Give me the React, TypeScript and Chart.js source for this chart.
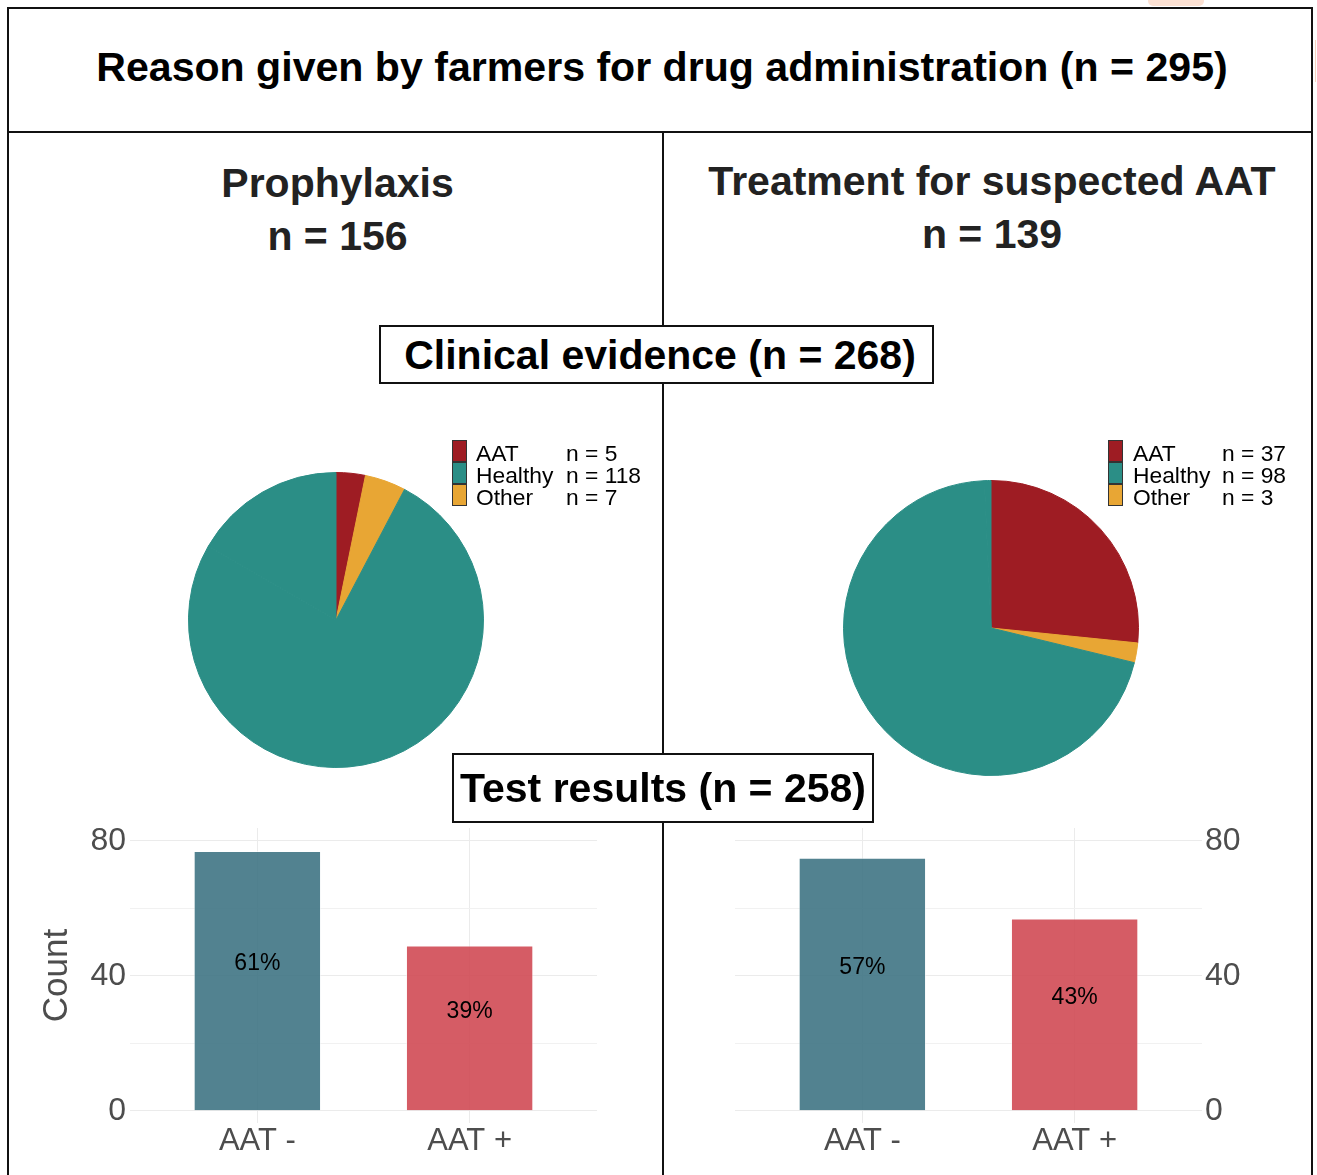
import React, { useEffect, useRef } from 'react';
import { Chart, registerables } from 'chart.js';

Chart.register(...registerables);

const FONT = '"Liberation Sans", Arial, Helvetica, sans-serif';

// ---------- texts ----------
const mainTitle = 'Reason given by farmers for drug administration (n = 295)';
const groupNames = ['Prophylaxis', 'Treatment for suspected AAT'];
const groupN = [156, 139];
const clinicalTitle = 'Clinical evidence (n = 268)';
const testTitle = 'Test results (n = 258)';

// ---------- pie data (clinical evidence) ----------
const pieCategories = ['AAT', 'Healthy', 'Other'];
const pieColors = ['#9e1c23', '#2b8e86', '#e8a634'];
const prophylaxisClinical = [5, 118, 7];
const treatmentClinical = [37, 98, 3];
// clockwise drawing order starting at 12 o'clock
const pieDrawOrder = ['AAT', 'Other', 'Healthy'];

// ---------- bar data (test results) ----------
const barCategories = ['AAT -', 'AAT +'];
const barColors = ['rgba(63,116,132,0.9)', 'rgba(208,74,84,0.9)'];
const prophylaxisTests = [77, 49];
const treatmentTests = [75, 57];
const countTicks = [0, 20, 40, 60, 80];
const countTickLabels = [0, 40, 80];
const countMin = -3.6;
const countMax = 83.8;
const percentLabelLift = 5; // label placed at count/2 + lift

function PieChart(props: { values: number[]; total: number; left: number; top: number }) {
  const ref = useRef<HTMLCanvasElement>(null);
  useEffect(() => {
    if (!ref.current) return;
    const idx = pieDrawOrder.map((c) => pieCategories.indexOf(c));
    const sum = props.values.reduce((a, b) => a + b, 0);
    const data = idx.map((i) => props.values[i]);
    const colors = idx.map((i) => pieColors[i]);
    const labels = idx.map((i) => pieCategories[i]);
    // remainder of the group total (no clinical record) shown in the Healthy colour
    const rest = props.total - sum;
    if (rest > 0) {
      data.push(rest);
      colors.push(pieColors[pieCategories.indexOf('Healthy')]);
      labels.push('');
    }
    const chart = new Chart(ref.current, {
      type: 'pie',
      data: {
        labels,
        datasets: [
          {
            data,
            backgroundColor: colors,
            borderColor: colors,
            borderWidth: 1,
            hoverOffset: 0,
            offset: 0,
          },
        ],
      },
      options: {
        responsive: false,
        animation: false,
        layout: { padding: 2 },
        plugins: { legend: { display: false }, tooltip: { enabled: false } },
        events: [],
      },
    });
    return () => chart.destroy();
  }, []);
  return (
    <canvas
      ref={ref}
      width={300}
      height={300}
      style={{ position: 'absolute', left: props.left, top: props.top, width: 300, height: 300 }}
    />
  );
}

const percentPlugin = {
  id: 'percentLabels',
  afterDatasetsDraw(chart: any) {
    const ctx = chart.ctx;
    const ds = chart.data.datasets[0];
    const vals = ds.data.map((d: any) => d.y);
    const total = vals.reduce((a: number, b: number) => a + b, 0);
    const meta = chart.getDatasetMeta(0);
    const yScale = chart.scales.y;
    ctx.save();
    ctx.font = `23px ${FONT}`;
    ctx.fillStyle = '#000';
    ctx.textAlign = 'center';
    ctx.textBaseline = 'middle';
    meta.data.forEach((bar: any, i: number) => {
      const v = vals[i];
      const y = yScale.getPixelForValue(v / 2 + percentLabelLift);
      ctx.fillText(Math.round((v / total) * 100) + '%', bar.x, y);
    });
    ctx.restore();
  },
};

function BarChart(props: {
  values: number[];
  side: 'left' | 'right';
  left: number;
  top: number;
  width: number;
  height: number;
}) {
  const ref = useRef<HTMLCanvasElement>(null);
  useEffect(() => {
    if (!ref.current) return;
    const isLeft = props.side === 'left';
    const chart = new Chart(ref.current, {
      type: 'bar',
      data: {
        datasets: [
          {
            data: props.values.map((v, i) => ({ x: i + 1, y: v })),
            backgroundColor: barColors,
            borderColor: 'rgba(255,255,255,0.55)',
            borderWidth: 1,
            categoryPercentage: 1,
            barPercentage: 0.6,
          },
        ],
      },
      options: {
        responsive: false,
        animation: false,
        events: [],
        layout: { padding: isLeft ? { top: 12, right: 3 } : { top: 12, left: 5 } },
        plugins: { legend: { display: false }, tooltip: { enabled: false } },
        scales: {
          x: {
            type: 'linear',
            min: 0.4,
            max: 2.6,
            offset: false,
            afterBuildTicks: (s: any) => {
              s.ticks = barCategories.map((_, i) => ({ value: i + 1 }));
            },
            afterFit: (s: any) => {
              s.height = 52;
              s.paddingLeft = 0;
              s.paddingRight = 0;
            },
            ticks: {
              callback: (v: any) => barCategories[Number(v) - 1] ?? '',
              font: { family: FONT, size: 31 },
              color: '#4d4d4d',
              padding: 0,
              maxRotation: 0,
              autoSkip: false,
            },
            grid: { color: '#ebebeb', lineWidth: 1, drawTicks: false, offset: false },
            border: { display: false },
          },
          y: {
            type: 'linear',
            position: isLeft ? 'left' : 'right',
            min: countMin,
            max: countMax,
            afterBuildTicks: (s: any) => {
              s.ticks = countTicks.map((v) => ({ value: v }));
            },
            afterFit: (s: any) => {
              s.width = isLeft ? 110 : 98;
              s.paddingTop = 0;
              s.paddingBottom = 0;
            },
            ticks: {
              callback: (v: any) => (countTickLabels.includes(Number(v)) ? String(v) : ''),
              font: { family: FONT, size: 32 },
              color: '#4d4d4d',
              padding: isLeft ? 4 : 3,
              autoSkip: false,
            },
            grid: {
              color: (c: any) =>
                countTickLabels.includes(c.tick?.value) ? '#ebebeb' : '#f1f1f1',
              lineWidth: 1,
              drawTicks: false,
            },
            border: { display: false },
            title: {
              display: isLeft,
              text: 'Count',
              font: { family: FONT, size: 35 },
              color: '#4d4d4d',
              padding: { top: 16, bottom: 0 },
            },
          },
        },
      },
      plugins: [percentPlugin],
    });
    return () => chart.destroy();
  }, []);
  return (
    <canvas
      ref={ref}
      width={props.width}
      height={props.height}
      style={{
        position: 'absolute',
        left: props.left,
        top: props.top,
        width: props.width,
        height: props.height,
      }}
    />
  );
}

function Legend(props: { values: number[]; swatchLeft: number; labelLeft: number; nLeft: number; top: number }) {
  return (
    <>
      {pieCategories.map((c, i) => (
        <React.Fragment key={c}>
          <div
            style={{
              position: 'absolute',
              left: props.swatchLeft,
              top: props.top + 22 * i,
              width: 15,
              height: 22,
              boxSizing: 'border-box',
              border: '1px solid #333',
              background: pieColors[i],
            }}
          />
          <div
            style={{
              position: 'absolute',
              left: props.labelLeft,
              top: props.top + 1.5 + 22 * i,
              font: `22.8px/22px ${FONT}`,
              color: '#000',
              whiteSpace: 'nowrap',
            }}
          >
            {c}
          </div>
          <div
            style={{
              position: 'absolute',
              left: props.nLeft,
              top: props.top + 1.5 + 22 * i,
              font: `22.8px/22px ${FONT}`,
              color: '#000',
              whiteSpace: 'nowrap',
            }}
          >
            {'n = ' + props.values[i]}
          </div>
        </React.Fragment>
      ))}
    </>
  );
}

function CenterText(props: {
  text: string;
  cx: number;
  top: number;
  size: number;
  color?: string;
}) {
  return (
    <div
      style={{
        position: 'absolute',
        left: props.cx - 700,
        width: 1400,
        top: props.top,
        textAlign: 'center',
        font: `bold ${props.size}px/1 ${FONT}`,
        color: props.color ?? '#000',
        whiteSpace: 'nowrap',
      }}
    >
      {props.text}
    </div>
  );
}

export default function App() {
  const line = '#111';
  return (
    <div
      style={{
        position: 'absolute',
        left: 0,
        top: 0,
        width: 1317,
        height: 1175,
        overflow: 'hidden',
        background: '#fff',
      }}
    >
      {/* faint artefacts of the neighbouring figure */}
      <div
        style={{
          position: 'absolute',
          left: 1148,
          top: -4,
          width: 56,
          height: 10,
          borderRadius: 6,
          background: 'rgba(246,170,130,0.35)',
        }}
      />
      <div
        style={{
          position: 'absolute',
          left: 1315,
          top: 40,
          width: 1,
          height: 42,
          background: 'rgba(240,160,120,0.45)',
        }}
      />

      {/* frame */}
      <div
        style={{
          position: 'absolute',
          left: 7,
          top: 7,
          width: 1306,
          height: 1300,
          boxSizing: 'border-box',
          border: `2px solid ${line}`,
        }}
      />
      <div style={{ position: 'absolute', left: 7, top: 131, width: 1306, height: 2, background: line }} />
      <div style={{ position: 'absolute', left: 662, top: 131, width: 2, height: 1100, background: line }} />

      <CenterText text={mainTitle} cx={662} top={47} size={41.1} />
      <CenterText text={groupNames[0]} cx={337.5} top={163} size={41} color="#222" />
      <CenterText text={'n = ' + groupN[0]} cx={337.5} top={216} size={41} color="#222" />
      <CenterText text={groupNames[1]} cx={992} top={161} size={41} color="#222" />
      <CenterText text={'n = ' + groupN[1]} cx={992} top={214} size={41} color="#222" />

      <PieChart values={prophylaxisClinical} total={groupN[0]} left={186} top={470} />
      <PieChart values={treatmentClinical} total={groupN[1]} left={841} top={478} />

      <Legend values={prophylaxisClinical} swatchLeft={452} labelLeft={476} nLeft={566} top={440} />
      <Legend values={treatmentClinical} swatchLeft={1108} labelLeft={1133} nLeft={1222} top={440} />

      <BarChart values={prophylaxisTests} side="left" left={20} top={816} width={580} height={359} />
      <BarChart values={treatmentTests} side="right" left={730} top={816} width={570} height={359} />

      {/* section boxes */}
      <div
        style={{
          position: 'absolute',
          left: 379,
          top: 325,
          width: 555,
          height: 59,
          boxSizing: 'border-box',
          border: `2px solid ${line}`,
          background: '#fff',
        }}
      />
      <CenterText text={clinicalTitle} cx={660} top={335} size={41} />
      <div
        style={{
          position: 'absolute',
          left: 452,
          top: 753,
          width: 422,
          height: 70,
          boxSizing: 'border-box',
          border: `2px solid ${line}`,
          background: '#fff',
        }}
      />
      <CenterText text={testTitle} cx={663} top={768} size={41} />
    </div>
  );
}
